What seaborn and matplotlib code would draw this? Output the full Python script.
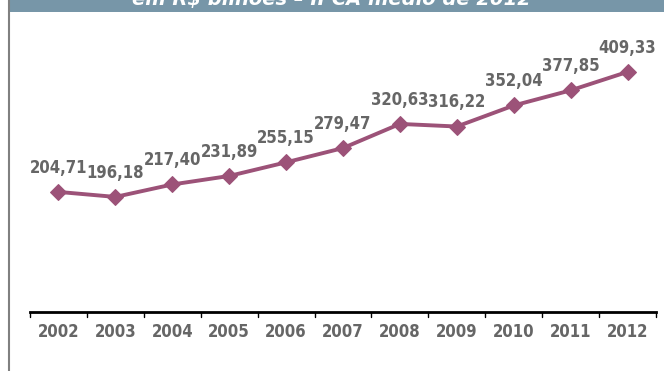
import matplotlib
matplotlib.use("Agg")
import matplotlib.pyplot as plt
import seaborn as sns
import pandas as pd
from matplotlib.patches import Rectangle
from matplotlib.lines import Line2D
from matplotlib import font_manager as fm

years = ["2002", "2003", "2004", "2005", "2006", "2007", "2008", "2009", "2010", "2011", "2012"]
values = [204.71, 196.18, 217.40, 231.89, 255.15, 279.47, 320.63, 316.22, 352.04, 377.85, 409.33]
labels = ["204,71", "196,18", "217,40", "231,89", "255,15", "279,47", "320,63", "316,22", "352,04", "377,85", "409,33"]
title = "em R$ bilhões – IPCA médio de 2012"

sns.set_style("white")
plt.rcParams["font.family"] = ["DejaVu Sans"]

cond = [f for f in fm.fontManager.ttflist if "Condensed" in f.fname and "DejaVuSans" in f.fname and "Bold" in f.fname and "Oblique" not in f.fname]
if cond:
    lab_font = fm.FontProperties(fname=cond[0].fname, size=12)
else:
    lab_font = fm.FontProperties(family="DejaVu Sans", weight="bold", stretch="condensed", size=10.5)

df = pd.DataFrame({"ano": years, "valor": values})

fig = plt.figure(figsize=(6.64, 3.71), dpi=100)
ax = fig.add_axes([30 / 664, 1 - 312 / 371, 626 / 664, (312 - 18.7) / 371])

line_color = "#9C5278"
sns.lineplot(data=df, x="ano", y="valor", ax=ax, color=line_color, linewidth=2.8,
             marker="D", markersize=8.5, markeredgecolor=line_color, sort=False)

ax.set_xlim(-0.5, len(years) - 0.5)
ax.set_ylim(0, 500)
for i, (v, lab) in enumerate(zip(values, labels)):
    ax.annotate(lab, (i, v), xytext=(0, 11), textcoords="offset points",
                ha="center", va="bottom", fontproperties=lab_font, color="#666666")

ax.set_xlabel("")
ax.set_ylabel("")
ax.set_yticks([])
ax.set_xticks(range(len(years)))
ax.set_xticklabels(years, fontproperties=lab_font, color="#666666")
ax.tick_params(axis="x", length=0, pad=8)
for s in ["top", "right", "left"]:
    ax.spines[s].set_visible(False)
ax.spines["bottom"].set_color("black")
ax.spines["bottom"].set_linewidth(2)
for b in range(len(years) + 1):
    ax.plot([b - 0.5, b - 0.5], [0, -8], color="black", lw=1, clip_on=False)

# header banner and left border
fig.patches.append(Rectangle((9 / 664, 1 - 12 / 371), 1, 12 / 371, transform=fig.transFigure,
                             facecolor="#7796A8", edgecolor="none"))
fig.text(331 / 664, 1 - 0 / 371, title, color="white", fontsize=14, fontstyle="italic",
         fontweight="bold", ha="center", va="center", family=["DejaVu Sans"])
fig.lines.append(Line2D([8.5 / 664, 8.5 / 664], [0, 1], transform=fig.transFigure,
                        color="#808080", lw=1.5))

fig.savefig("out.png", dpi=100)
